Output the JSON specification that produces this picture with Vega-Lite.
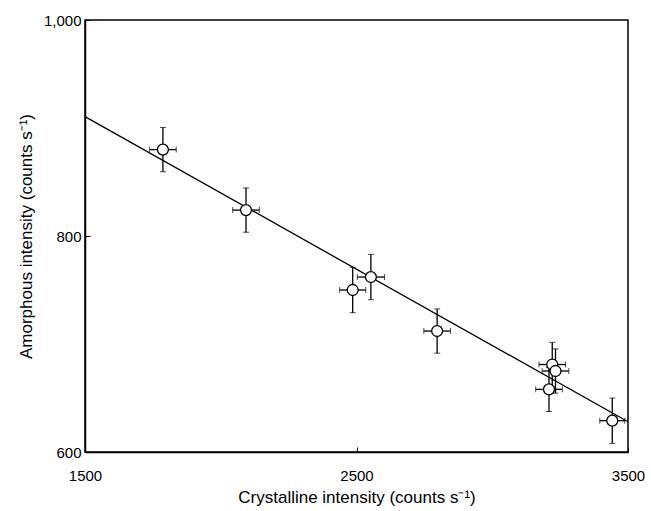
{
  "$schema": "https://vega.github.io/schema/vega-lite/v6.json",
  "autosize": "none",
  "width": 543,
  "height": 432,
  "padding": {"left": 85, "top": 20, "right": 23, "bottom": 59},
  "background": "white",
  "config": {
    "view": {"stroke": "black", "strokeWidth": 1.5},
    "font": "Liberation Sans",
    "axis": {
      "grid": false,
      "domainColor": "black",
      "domainWidth": 1.5,
      "tickColor": "black",
      "tickSize": -5,
      "labelColor": "black",
      "titleColor": "black",
      "labelFont": "Liberation Sans",
      "titleFont": "Liberation Sans",
      "labelFontSize": 15,
      "titleFontSize": 17,
      "titleFontWeight": "normal",
      "labelFlush": false
    }
  },
  "datasets": {
    "pts": [
      {"x": 1787, "y": 880, "xlo": 1738, "xhi": 1836, "ylo": 859.5, "yhi": 900.5},
      {"x": 2093, "y": 824, "xlo": 2044, "xhi": 2142, "ylo": 803.5, "yhi": 844.5},
      {"x": 2486, "y": 750, "xlo": 2438, "xhi": 2534, "ylo": 729, "yhi": 771},
      {"x": 2553, "y": 762, "xlo": 2503, "xhi": 2603, "ylo": 741, "yhi": 783},
      {"x": 2797, "y": 712, "xlo": 2748, "xhi": 2846, "ylo": 691.5, "yhi": 732.5},
      {"x": 3221, "y": 681, "xlo": 3172, "xhi": 3270, "ylo": 660.5, "yhi": 701.5},
      {"x": 3233, "y": 675, "xlo": 3184, "xhi": 3282, "ylo": 654.5, "yhi": 695.5},
      {"x": 3209, "y": 658, "xlo": 3160, "xhi": 3258, "ylo": 637.5, "yhi": 678.5},
      {"x": 3442, "y": 629, "xlo": 3396, "xhi": 3488, "ylo": 608, "yhi": 650}
    ],
    "fit": [
      {"x": 1500, "y": 910.5},
      {"x": 3500, "y": 628}
    ]
  },
  "layer": [
    {
      "data": {"name": "fit"},
      "mark": {"type": "line", "color": "black", "strokeWidth": 1.3},
      "encoding": {
        "x": {
          "field": "x", "type": "quantitative",
          "scale": {"domain": [1500, 3500], "nice": false},
          "axis": {"values": [1500, 2500, 3500], "format": "d", "title": "Crystalline intensity (counts s⁻¹)", "titlePadding": 6, "labelPadding": 21}
        },
        "y": {
          "field": "y", "type": "quantitative",
          "scale": {"domain": [600, 1000], "nice": false, "zero": false},
          "axis": {"values": [600, 800, 1000], "title": "Amorphous intensity (counts s⁻¹)", "titlePadding": 8, "labelPadding": 9,
                   "labelExpr": "datum.value == 1000 ? '1,000' : datum.label"}
        }
      }
    },
    {
      "data": {"name": "pts"},
      "mark": {"type": "errorbar", "ticks": {"size": 6, "color": "black", "strokeWidth": 1.3}, "rule": {"color": "black", "strokeWidth": 1.3}},
      "encoding": {
        "x": {"field": "xlo", "type": "quantitative", "title": "Crystalline intensity (counts s⁻¹)"},
        "x2": {"field": "xhi"},
        "y": {"field": "y", "type": "quantitative", "title": "Amorphous intensity (counts s⁻¹)"}
      }
    },
    {
      "data": {"name": "pts"},
      "mark": {"type": "errorbar", "ticks": {"size": 6, "color": "black", "strokeWidth": 1.3}, "rule": {"color": "black", "strokeWidth": 1.3}},
      "encoding": {
        "y": {"field": "ylo", "type": "quantitative", "title": "Amorphous intensity (counts s⁻¹)"},
        "y2": {"field": "yhi"},
        "x": {"field": "x", "type": "quantitative", "title": "Crystalline intensity (counts s⁻¹)"}
      }
    },
    {
      "data": {"name": "pts"},
      "mark": {"type": "point", "shape": "circle", "filled": false, "fill": "white", "fillOpacity": 1, "stroke": "black", "strokeWidth": 1.3, "opacity": 1, "size": 120},
      "encoding": {
        "x": {"field": "x", "type": "quantitative", "title": "Crystalline intensity (counts s⁻¹)"},
        "y": {"field": "y", "type": "quantitative", "title": "Amorphous intensity (counts s⁻¹)"}
      }
    }
  ]
}
